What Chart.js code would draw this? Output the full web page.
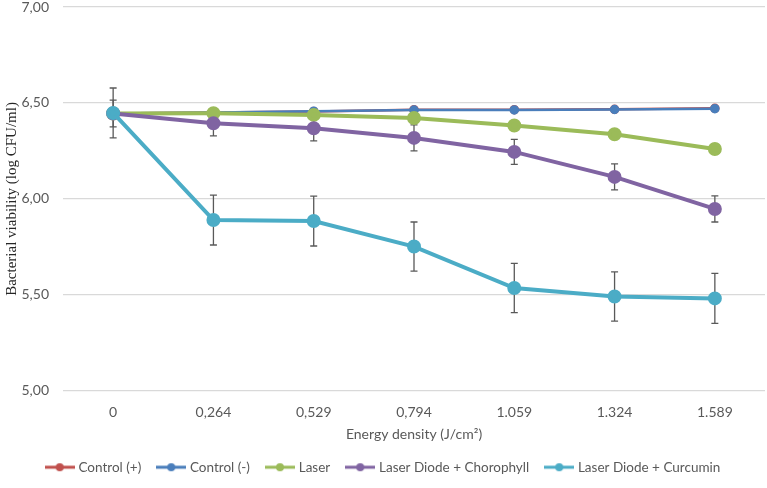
<!DOCTYPE html>
<html lang="en">
<head>
    <meta charset="UTF-8">
    <title>Bacterial viability vs energy density</title>
    <script src="https://cdn.jsdelivr.net/npm/chart.js"></script>
    <style>
        body { margin: 0; background: #fff; }
        #wrap { width: 767px; height: 488px; position: relative; }
    </style>
</head>
<body>
    <div id="wrap"><canvas id="chart"></canvas></div>

    <script>
        // Data
        const energyLabels = ['0', '0,264', '0,529', '0,794', '1.059', '1.324', '1.589'];

        const controlPlus = [6.445, 6.450, 6.456, 6.465, 6.465, 6.467, 6.472];
        const controlMinus = [6.445, 6.450, 6.457, 6.463, 6.464, 6.466, 6.470];
        const laser = [6.445, 6.447, 6.438, 6.422, 6.383, 6.337, 6.260];
        const chlorophyll = [6.445, 6.394, 6.368, 6.318, 6.245, 6.115, 5.948];
        const curcumin = [6.448, 5.890, 5.885, 5.752, 5.536, 5.492, 5.482];

        // +/- error for each point
        const errControlPlus = [0.01, 0.005, 0.005, 0.005, 0.005, 0.005, 0.005];
        const errControlMinus = [0.01, 0.005, 0.005, 0.005, 0.005, 0.005, 0.005];
        const errLaser = [0.01, 0.015, 0.015, 0.02, 0.02, 0.02, 0.025];
        const errChlorophyll = [0.07, 0.065, 0.065, 0.068, 0.065, 0.068, 0.068];
        const errCurcumin = [0.13, 0.13, 0.13, 0.128, 0.128, 0.128, 0.13];

        const yTicks = [5, 5.5, 6, 6.5, 7];

        const textColor = '#595959';
        const sans = 'Lato';

        // small "line with dot" legend marker like Excel
        function legendMarker(color) {
            const c = document.createElement('canvas');
            c.width = 30; c.height = 12;
            const g = c.getContext('2d');
            g.strokeStyle = color;
            g.lineWidth = 3;
            g.beginPath(); g.moveTo(0, 6); g.lineTo(30, 6); g.stroke();
            g.fillStyle = color;
            g.beginPath(); g.arc(15, 6, 4, 0, Math.PI * 2); g.fill();
            return c;
        }

        function series(label, data, err, color, lw, pr, order) {
            return {
                label: label,
                data: data,
                err: err,
                borderColor: color,
                backgroundColor: color,
                pointBackgroundColor: color,
                pointBorderColor: color,
                borderWidth: lw,
                pointRadius: pr,
                pointHoverRadius: pr,
                tension: 0,
                order: order,
                marker: legendMarker(color)
            };
        }

        // draws the error bars under the lines
        const errorBars = {
            id: 'errorBars',
            beforeDatasetsDraw(chart) {
                const ctx = chart.ctx;
                const x = chart.scales.x, y = chart.scales.y;
                ctx.save();
                ctx.strokeStyle = '#595959';
                ctx.lineWidth = 1.3;
                chart.data.datasets.forEach(ds => {
                    ds.data.forEach((v, i) => {
                        const px = x.getPixelForValue(i);
                        const top = y.getPixelForValue(v + ds.err[i]);
                        const bot = y.getPixelForValue(v - ds.err[i]);
                        ctx.beginPath();
                        ctx.moveTo(px, top); ctx.lineTo(px, bot);
                        ctx.moveTo(px - 3.5, top); ctx.lineTo(px + 3.5, top);
                        ctx.moveTo(px - 3.5, bot); ctx.lineTo(px + 3.5, bot);
                        ctx.stroke();
                    });
                });
                ctx.restore();
            }
        };

        const ctx = document.getElementById('chart').getContext('2d');
        const chart = new Chart(ctx, {
            type: 'line',
            data: {
                labels: energyLabels,
                datasets: [
                    series('Control (+)', controlPlus, errControlPlus, '#c0504d', 2.5, 3.5, 5),
                    series('Control (-)', controlMinus, errControlMinus, '#4a7ebb', 2.5, 3.5, 4),
                    series('Laser', laser, errLaser, '#9bbb59', 4, 5, 3),
                    series('Laser Diode + Chorophyll', chlorophyll, errChlorophyll, '#8064a2', 4, 5, 2),
                    series('Laser Diode + Curcumin', curcumin, errCurcumin, '#4bacc6', 4, 5, 1)
                ]
            },
            options: {
                responsive: true,
                maintainAspectRatio: false,
                animation: false,
                layout: { autoPadding: false, padding: { top: 7, right: 2, left: 3, bottom: 4 } },
                plugins: {
                    tooltip: { enabled: false },
                    legend: {
                        position: 'bottom',
                        labels: {
                            color: textColor,
                            font: { family: sans, size: 13.5 },
                            usePointStyle: true,
                            pointStyleWidth: 24,
                            padding: 18,
                            generateLabels(chart) {
                                return chart.data.datasets.map((ds, i) => ({
                                    text: ds.label,
                                    pointStyle: ds.marker,
                                    fillStyle: ds.borderColor,
                                    strokeStyle: ds.borderColor,
                                    lineWidth: 0,
                                    hidden: false,
                                    datasetIndex: i,
                                    fontColor: textColor
                                }));
                            }
                        }
                    }
                },
                scales: {
                    x: {
                        offset: true,
                        afterFit(axis) { axis.paddingLeft = 0; axis.paddingRight = 0; },
                        grid: { display: false },
                        border: { display: false },
                        ticks: { color: textColor, font: { family: sans, size: 14 }, padding: 5 },
                        title: {
                            display: true,
                            text: 'Energy density (J/cm²)',
                            color: textColor,
                            font: { family: sans, size: 14 },
                            padding: { top: 0, bottom: 0 }
                        }
                    },
                    y: {
                        min: 5,
                        max: 7,
                        afterBuildTicks(axis) { axis.ticks = yTicks.map(v => ({ value: v })); },
                        afterFit(axis) { axis.width = 60; axis.paddingTop = 0; axis.paddingBottom = 0; },
                        grid: { color: '#d9d9d9', lineWidth: 1.2, drawTicks: false },
                        border: { display: false },
                        ticks: {
                            color: textColor,
                            font: { family: sans, size: 14 },
                            padding: 14,
                            callback: v => v.toFixed(2).replace('.', ',')
                        },
                        title: {
                            display: true,
                            text: 'Bacterial viability (log CFU/ml)',
                            color: '#262626',
                            font: { family: 'Liberation Serif', size: 15 },
                            padding: { bottom: 0, top: 0 }
                        }
                    }
                }
            },
            plugins: [errorBars]
        });
    </script>
</body>
</html>
